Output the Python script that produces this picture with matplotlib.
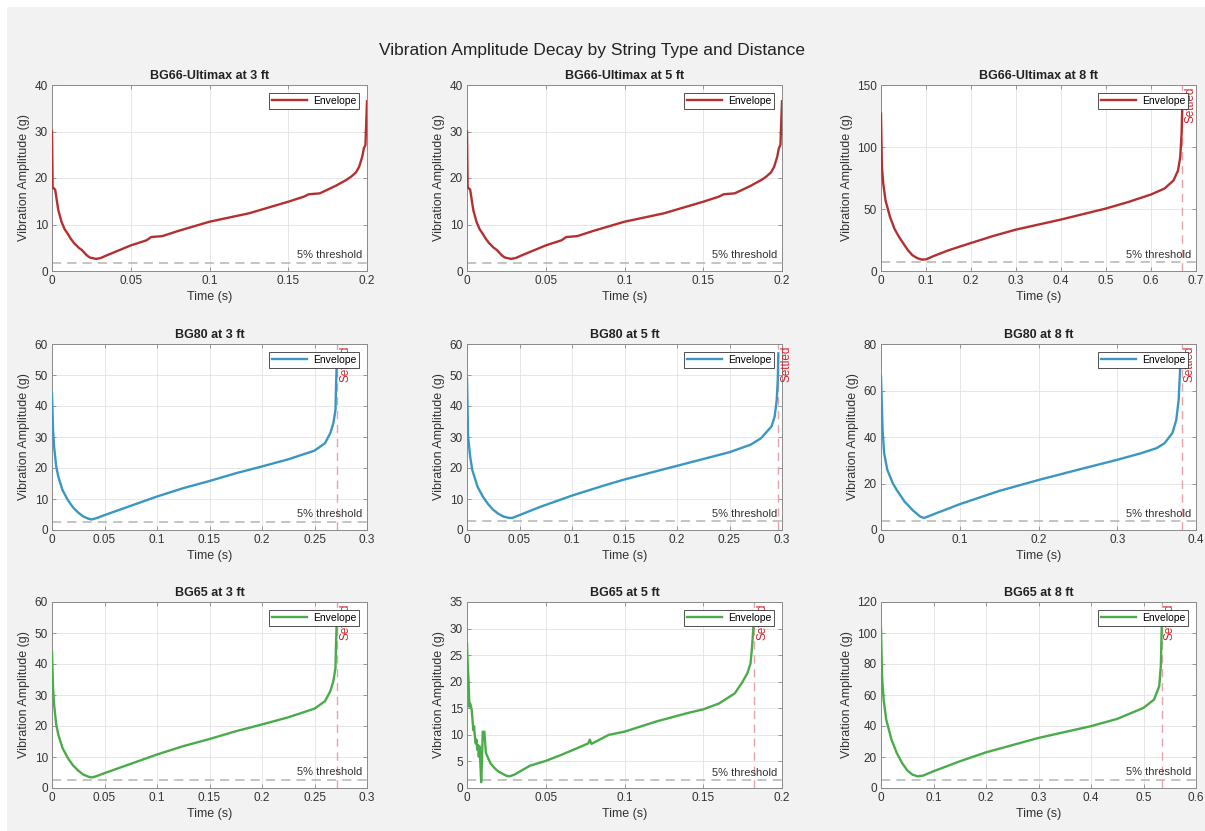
import matplotlib
matplotlib.use('Agg')
import matplotlib.pyplot as plt
import matplotlib.transforms as mtransforms
from matplotlib.patches import Rectangle
from matplotlib.ticker import MultipleLocator, FuncFormatter

plt.rcParams['font.family'] = ['Liberation Sans', 'DejaVu Sans']

# ---------------- data ----------------
t_bg66_3 = [0, 0.0004, 0.002, 0.004, 0.006, 0.008, 0.010, 0.012, 0.014, 0.017, 0.019, 0.022, 0.024,
            0.028, 0.031, 0.035, 0.040, 0.050, 0.060, 0.063, 0.070, 0.080, 0.100, 0.125, 0.150, 0.160,
            0.163, 0.170, 0.180, 0.187, 0.190, 0.193, 0.195, 0.197, 0.198, 0.199, 0.200]
a_bg66_3 = [30.0, 18.0, 17.5, 13.1, 10.6, 9.0, 8.0, 6.9, 6.0, 5.0, 4.5, 3.4, 2.9,
            2.6, 2.8, 3.4, 4.1, 5.5, 6.6, 7.3, 7.5, 8.6, 10.6, 12.4, 14.9, 16.0,
            16.5, 16.7, 18.3, 19.6, 20.3, 21.2, 22.4, 24.6, 26.4, 27.1, 36.5]

t_bg66_5 = [0, 0.0004, 0.002, 0.004, 0.006, 0.008, 0.010, 0.012, 0.014, 0.017, 0.019, 0.022, 0.024,
            0.028, 0.031, 0.035, 0.040, 0.050, 0.060, 0.063, 0.070, 0.080, 0.100, 0.125, 0.150, 0.160,
            0.163, 0.170, 0.180, 0.187, 0.190, 0.193, 0.195, 0.197, 0.198, 0.199, 0.200]
a_bg66_5 = [30.0, 18.0, 17.5, 13.1, 10.6, 9.0, 8.0, 6.9, 6.0, 5.0, 4.5, 3.4, 2.9,
            2.6, 2.8, 3.4, 4.1, 5.5, 6.6, 7.3, 7.5, 8.6, 10.6, 12.4, 14.9, 16.0,
            16.5, 16.7, 18.3, 19.6, 20.3, 21.2, 22.4, 24.6, 26.4, 27.1, 36.5]

t_bg66_8 = [0, 0.002, 0.005, 0.010, 0.020, 0.030, 0.040, 0.050, 0.060, 0.070, 0.080, 0.090, 0.100,
            0.120, 0.150, 0.200, 0.250, 0.300, 0.400, 0.500, 0.550, 0.600, 0.630, 0.650, 0.660,
            0.665, 0.668, 0.670]
a_bg66_8 = [127, 84, 70.5, 57, 43.6, 34, 27.5, 22, 16.7, 12.7, 10.5, 9.2, 9.4,
            12.5, 16.7, 22.6, 28.3, 33.4, 41.5, 50.4, 55.7, 61.7, 66.5, 73, 81,
            92, 111, 140]

t_bg80_3 = [0, 0.001, 0.002, 0.004, 0.006, 0.010, 0.015, 0.020, 0.025, 0.030, 0.035, 0.038, 0.043,
            0.050, 0.070, 0.100, 0.125, 0.150, 0.175, 0.200, 0.225, 0.250, 0.260, 0.265, 0.268,
            0.270, 0.2705, 0.2712]
a_bg80_3 = [44, 32.3, 26.9, 20.5, 17.2, 12.9, 9.7, 7.3, 5.6, 4.3, 3.6, 3.4, 3.9,
            4.8, 7.2, 10.8, 13.5, 15.8, 18.3, 20.5, 22.8, 25.6, 28.0, 31.2, 34.5,
            38.8, 46.3, 54]

t_bg80_5 = [0, 0.001, 0.003, 0.005, 0.010, 0.015, 0.020, 0.025, 0.030, 0.035, 0.040, 0.043, 0.050,
            0.070, 0.100, 0.130, 0.150, 0.200, 0.250, 0.270, 0.280, 0.290, 0.293, 0.295, 0.296,
            0.2965]
a_bg80_5 = [49, 30.2, 23.7, 19.4, 14.0, 10.8, 8.4, 6.5, 5.2, 4.3, 3.9, 3.9, 4.8,
            7.5, 11.1, 14.3, 16.3, 20.7, 25.1, 27.5, 29.6, 33.4, 36.6, 42, 48.5,
            57]

t_bg80_8 = [0, 0.002, 0.004, 0.008, 0.015, 0.020, 0.030, 0.040, 0.050, 0.055, 0.070, 0.100, 0.150,
            0.200, 0.250, 0.300, 0.330, 0.350, 0.360, 0.370, 0.375, 0.378, 0.380, 0.3815]
a_bg80_8 = [66, 43, 33, 25.9, 20.1, 17.2, 12.2, 8.6, 5.7, 5.2, 7.2, 11.1, 16.8,
            21.5, 25.9, 30.2, 33, 35.2, 37.3, 41.7, 47.4, 56, 70.4, 75]

t_bg65_3 = [0, 0.001, 0.002, 0.004, 0.006, 0.010, 0.015, 0.020, 0.025, 0.030, 0.035, 0.038, 0.043,
            0.050, 0.070, 0.100, 0.125, 0.150, 0.175, 0.200, 0.225, 0.250, 0.260, 0.265, 0.268,
            0.270, 0.2705, 0.2712]
a_bg65_3 = [44, 32.3, 26.9, 20.5, 17.2, 12.9, 9.7, 7.3, 5.6, 4.3, 3.6, 3.4, 3.9,
            4.8, 7.2, 10.8, 13.5, 15.8, 18.3, 20.5, 22.8, 25.6, 28.0, 31.2, 34.5,
            38.8, 46.3, 54]

t_bg65_5 = [0, 0.0005, 0.001, 0.0015, 0.002, 0.003, 0.004, 0.0045, 0.005, 0.0055, 0.006, 0.0065,
            0.007, 0.0075, 0.008, 0.009, 0.0095, 0.010, 0.0105, 0.011, 0.012, 0.013, 0.015, 0.018,
            0.020, 0.025, 0.027, 0.030, 0.040, 0.050, 0.060, 0.070, 0.077, 0.078, 0.079, 0.090,
            0.100, 0.120, 0.140, 0.150, 0.160, 0.170, 0.175, 0.178, 0.180, 0.181, 0.182]
a_bg65_5 = [27.2, 22.8, 20.3, 15.3, 15.9, 14.7, 10.9, 11.6, 9.7, 8.4, 9.1, 7.2,
            8.1, 5.9, 7.8, 1.1, 5.0, 10.6, 10.3, 10.6, 6.6, 5.9, 4.6, 3.6,
            3.1, 2.3, 2.2, 2.5, 4.2, 5.1, 6.25, 7.5, 8.4, 9.1, 8.3, 10.0,
            10.6, 12.5, 14.1, 14.8, 15.9, 17.8, 20.0, 21.6, 23.4, 26.6, 31.0]

t_bg65_8 = [0, 0.002, 0.005, 0.010, 0.020, 0.030, 0.040, 0.050, 0.060, 0.070, 0.080, 0.100, 0.150,
            0.200, 0.300, 0.400, 0.450, 0.500, 0.520, 0.530, 0.533, 0.535]
a_bg65_8 = [103, 72, 57, 44, 31.2, 22.6, 16.2, 11.4, 8.6, 7.5, 8.0, 10.8, 17.2,
            23.0, 32.3, 39.9, 44.6, 51.7, 57, 65.7, 78.6, 108]

titles = ['BG66-Ultimax at 3 ft', 'BG66-Ultimax at 5 ft', 'BG66-Ultimax at 8 ft',
          'BG80 at 3 ft', 'BG80 at 5 ft', 'BG80 at 8 ft',
          'BG65 at 3 ft', 'BG65 at 5 ft', 'BG65 at 8 ft']
times = [t_bg66_3, t_bg66_5, t_bg66_8, t_bg80_3, t_bg80_5, t_bg80_8, t_bg65_3, t_bg65_5, t_bg65_8]
amps = [a_bg66_3, a_bg66_5, a_bg66_8, a_bg80_3, a_bg80_5, a_bg80_8, a_bg65_3, a_bg65_5, a_bg65_8]
settle_times = [None, None, 0.669, 0.2714, 0.2965, 0.3817, 0.2714, 0.1822, 0.5343]
threshold_fraction = 0.05

# ---------------- layout / style ----------------
colors = ['#b3302f'] * 3 + ['#3a96c2'] * 3 + ['#4aab4a'] * 3
xlims = [0.2, 0.2, 0.7, 0.3, 0.3, 0.4, 0.3, 0.2, 0.6]
xsteps = [0.05, 0.05, 0.1, 0.05, 0.05, 0.1, 0.05, 0.05, 0.1]
ylims = [40, 40, 150, 60, 60, 80, 60, 35, 120]
ysteps = [10, 10, 50, 10, 10, 20, 10, 5, 20]

W, H = 1205, 831
fig = plt.figure(figsize=(W / 100, H / 100), dpi=100)
fig.patch.set_facecolor('white')
fig.patches.append(Rectangle((7 / W, 0), 1 - 7 / W, 1 - 7 / H, transform=fig.transFigure,
                             facecolor='#f2f2f2', edgecolor='none', zorder=-10))

col_left = [52, 467, 881]
row_top = [85, 344, 602]
ax_w, ax_h = 315, 186

fmt = FuncFormatter(lambda v, p: ('%g' % round(v, 6)))

for i in range(9):
    r, c = divmod(i, 3)
    ax = fig.add_axes([col_left[c] / W, 1 - (row_top[r] + ax_h) / H, ax_w / W, ax_h / H])
    ax.set_facecolor('white')
    ax.plot(times[i], amps[i], color=colors[i], lw=1.7, label='Envelope', zorder=3)
    thr = threshold_fraction * max(amps[i])
    ax.axhline(thr, color='#b4b4b4', lw=1.1, ls=(0, (6, 4)), zorder=2)
    ax.text(0.985, thr + ylims[i] * 0.012, '5% threshold',
            transform=mtransforms.blended_transform_factory(ax.transAxes, ax.transData),
            ha='right', va='bottom', fontsize=8, color='#333333')
    if settle_times[i] is not None:
        ax.axvline(settle_times[i], color='#e8a3aa', lw=1.0, ls=(0, (6, 4)), zorder=2)
        ax.annotate('Settled', xy=(settle_times[i], 1), xycoords=('data', 'axes fraction'),
                    xytext=(1.5, -1.5), textcoords='offset points', rotation=90,
                    ha='left', va='top', fontsize=8.5, color='#d0252f', zorder=3)
    ax.set_xlim(0, xlims[i])
    ax.set_ylim(0, ylims[i])
    ax.xaxis.set_major_locator(MultipleLocator(xsteps[i]))
    ax.yaxis.set_major_locator(MultipleLocator(ysteps[i]))
    ax.xaxis.set_major_formatter(fmt)
    ax.yaxis.set_major_formatter(fmt)
    ax.grid(True, color='#e3e3e3', lw=0.6)
    ax.set_axisbelow(True)
    for sp in ax.spines.values():
        sp.set_color('#8a8a8a')
        sp.set_linewidth(0.7)
    ax.tick_params(direction='in', length=3, width=0.6, top=True, right=True,
                   labelsize=8.5, color='#8a8a8a', labelcolor='#333333', pad=3)
    ax.set_title(titles[i], fontsize=9, fontweight='bold', color='#222222', pad=4)
    ax.set_xlabel('Time (s)', fontsize=9, color='#333333', labelpad=3)
    ax.set_ylabel('Vibration Amplitude (g)', fontsize=9, color='#333333', labelpad=3)
    leg = ax.legend(loc='upper right', fontsize=7.5, frameon=True, fancybox=False,
                    edgecolor='#333333', framealpha=1, handlelength=3.4, borderpad=0.25,
                    borderaxespad=0.8, handletextpad=0.5)
    leg.get_frame().set_linewidth(0.6)
    leg.set_zorder(6)

fig.text(0.491, 1 - 50 / H, 'Vibration Amplitude Decay by String Type and Distance',
         ha='center', va='center', fontsize=12.5, color='#222222')

fig.savefig('out.png', dpi=100, facecolor=fig.get_facecolor())
